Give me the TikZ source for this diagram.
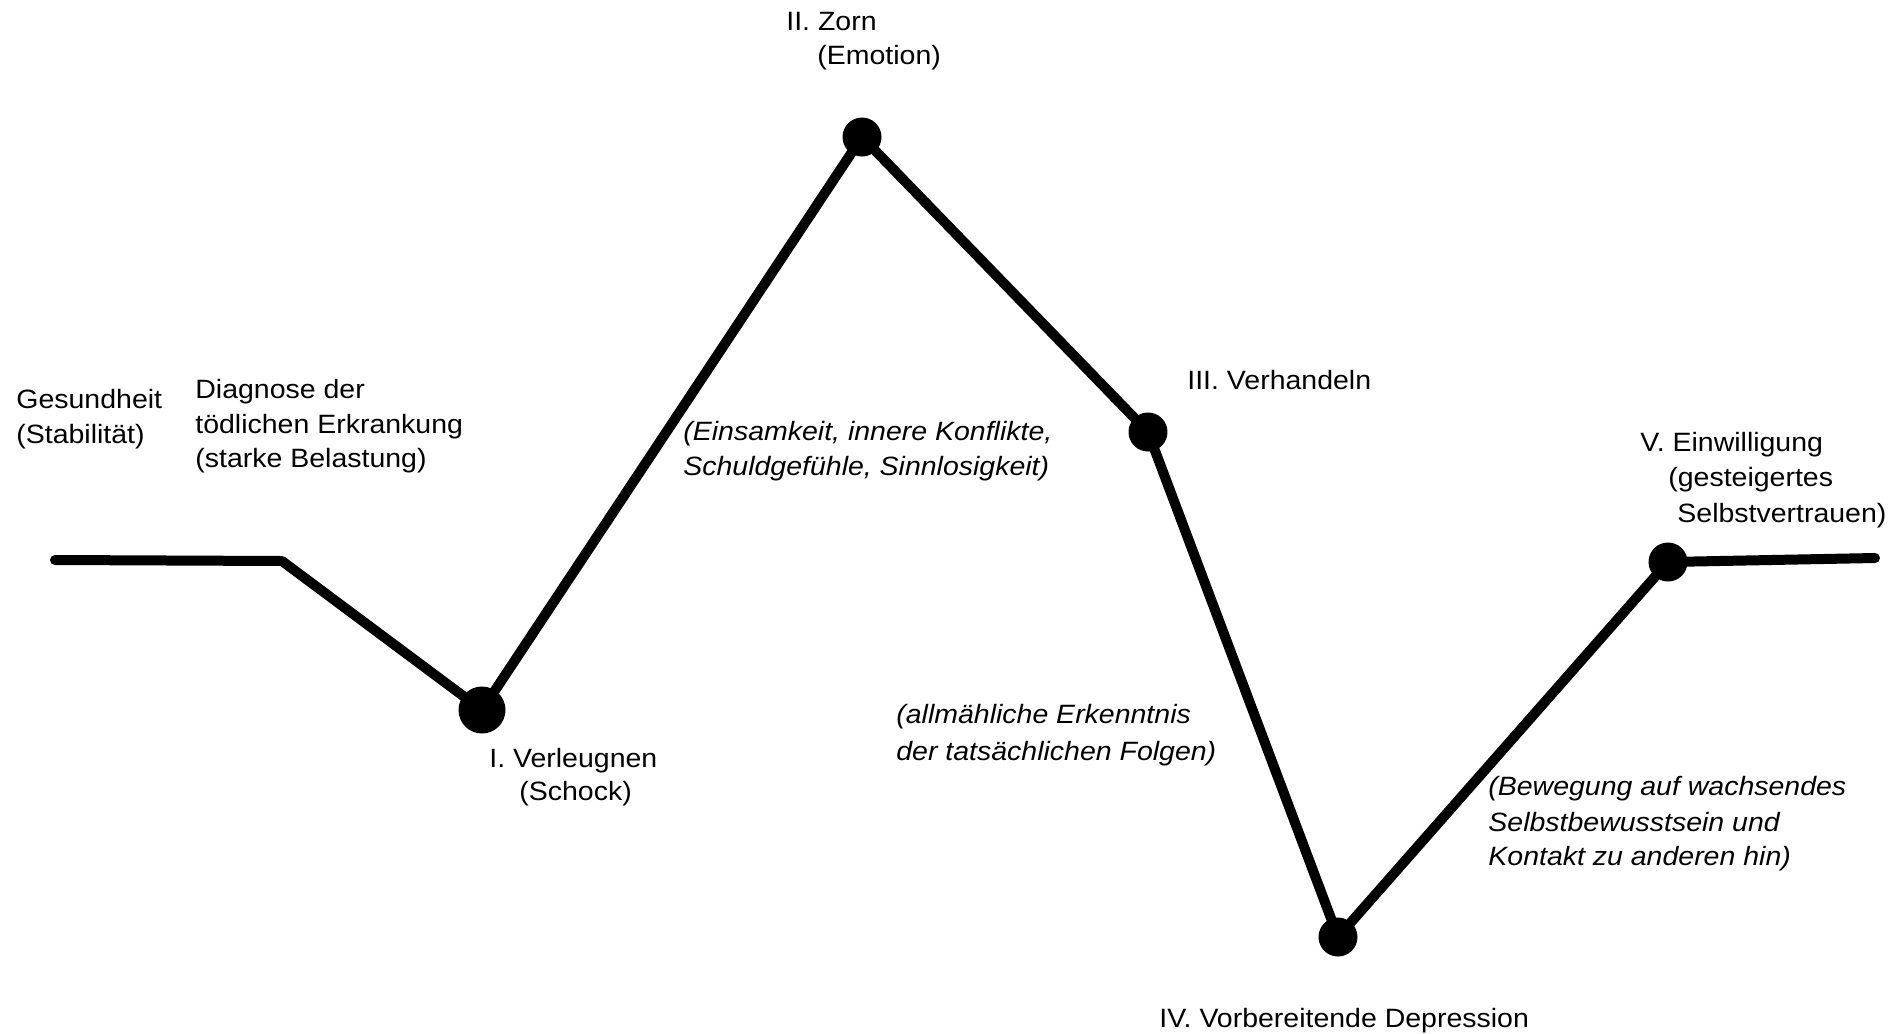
\documentclass[tikz,border=0pt]{standalone}
\usepackage{fontspec}
\setmainfont{Liberation Sans}[FakeStretch=1.075]
\begin{document}
\begin{tikzpicture}[x=0.5pt,y=-0.5pt,
  curve/.style={line width=5pt, line cap=round, line join=round},
  dot/.style={circle, fill=black, inner sep=0pt, minimum size=19.5pt},
  bigdot/.style={dot, minimum size=23.5pt},
  lbl/.style={anchor=base west, inner sep=0pt, font=\fontsize{13.25pt}{17pt}\selectfont},
  note/.style={lbl, font=\fontsize{13.25pt}{17pt}\selectfont\itshape}]
\useasboundingbox (0,0) rectangle (1903,1034);
\coordinate (s) at (55,560);
\coordinate (b) at (282,561);
\coordinate (e) at (1875,558);
\node[bigdot] (p1) at (482,710) {};
\node[dot] (p2) at (862,137) {};
\node[dot] (p3) at (1148,432) {};
\node[dot] (p4) at (1338,937) {};
\node[dot] (p5) at (1668,562) {};
\draw[curve] (s) -- (b) -- (p1.center) -- (p2.center) -- (p3.center) -- (p4.center) -- (p5.center) -- (e);
% labels
\node[lbl] (g1) at (16,408) {Gesundheit};
\node[lbl] (g2) at (16,443) {(Stabilität)};
\node[lbl] (d1) at (195,398) {Diagnose der};
\node[lbl] (d2) at (195,433) {tödlichen Erkrankung};
\node[lbl] (d3) at (195,467) {(starke Belastung)};
\node[lbl] (v1a) at (489,767) {I. Verleugnen};
\node[lbl] (v1b) at (519,800) {(Schock)};
\node[lbl] (z1) at (786,30) {II. Zorn};
\node[lbl] (z2) at (817,64) {(Emotion)};
\node[lbl] (h1) at (1187,389) {III. Verhandeln};
\node[lbl] (dep) at (1159,1027) {IV. Vorbereitende Depression};
\node[lbl] (w1) at (1640,451) {V. Einwilligung};
\node[lbl] (w2) at (1668,486) {(gesteigertes};
\node[lbl] (w3) at (1677,522) {Selbstvertrauen)};
% notes
\node[note] (n1a) at (683,440) {(Einsamkeit, innere Konflikte,};
\node[note] (n1b) at (683,475) {Schuldgefühle, Sinnlosigkeit)};
\node[note] (n2a) at (896,723) {(allmähliche Erkenntnis};
\node[note] (n2b) at (896,760) {der tatsächlichen Folgen)};
\node[note] (n3a) at (1488,795) {(Bewegung auf wachsendes};
\node[note] (n3b) at (1488,831) {Selbstbewusstsein und};
\node[note] (n3c) at (1488,865) {Kontakt zu anderen hin)};
\end{tikzpicture}
\end{document}
